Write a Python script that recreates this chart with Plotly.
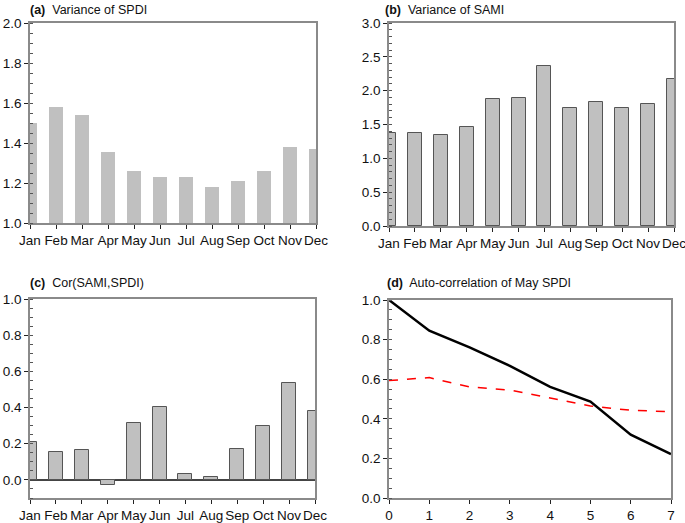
import plotly.graph_objects as go

months = ["Jan", "Feb", "Mar", "Apr", "May", "Jun", "Jul", "Aug", "Sep", "Oct", "Nov", "Dec"]
var_spdi = [1.50, 1.58, 1.54, 1.355, 1.26, 1.23, 1.23, 1.18, 1.21, 1.26, 1.38, 1.37]
var_sami = [1.38, 1.37, 1.34, 1.47, 1.88, 1.89, 2.37, 1.74, 1.83, 1.74, 1.81, 2.17]
cor_sami_spdi = [0.21, 0.154, 0.167, -0.026, 0.316, 0.404, 0.035, 0.017, 0.173, 0.298, 0.537, 0.382]
lags = [0, 1, 2, 3, 4, 5, 6, 7]
autocorr_may = [1.0, 0.845, 0.761, 0.667, 0.561, 0.487, 0.32, 0.222]
sig_level = [0.593, 0.608, 0.561, 0.545, 0.505, 0.465, 0.443, 0.436]

W, H = 685, 523
FONT = "Liberation Sans, Arial, Helvetica, sans-serif"

def xd(l, r):
    return [l / W, r / W]

def yd(t, b):
    return [(H - b) / H, (H - t) / H]

fig = go.Figure()
idx = list(range(12))

fig.add_trace(go.Bar(x=idx, y=[v - 1.0 for v in var_spdi], base=1.0, width=0.54,
                     marker=dict(color="#c0c0c0", line=dict(width=0)),
                     xaxis="x", yaxis="y", showlegend=False))
fig.add_trace(go.Bar(x=idx, y=var_sami, width=0.54,
                     marker=dict(color="#c0c0c0", line=dict(width=1, color="#555555")),
                     xaxis="x2", yaxis="y2", showlegend=False))
fig.add_trace(go.Bar(x=idx, y=cor_sami_spdi, width=0.54,
                     marker=dict(color="#c0c0c0", line=dict(width=1, color="#555555")),
                     xaxis="x3", yaxis="y3", showlegend=False))
fig.add_trace(go.Scatter(x=lags, y=sig_level, mode="lines",
                         line=dict(color="#ff0000", width=1.5, dash="dash"),
                         xaxis="x4", yaxis="y4", showlegend=False))
fig.add_trace(go.Scatter(x=lags, y=autocorr_may, mode="lines",
                         line=dict(color="#000000", width=2.5),
                         xaxis="x4", yaxis="y4", showlegend=False))

axcommon = dict(showline=True, linecolor="#8a8a8a", linewidth=1.5, mirror=True,
                showgrid=False, zeroline=False, ticks="outside", ticklen=4,
                tickcolor="#222222", tickwidth=1.2, tickangle=0, automargin=False,
                ticklabeloverflow="allow",
                tickfont=dict(family=FONT, size=13.5, color="#111111"))

def monthaxis(domain, anchor):
    return dict(axcommon, domain=domain, anchor=anchor, range=[0, 11],
                tickmode="array", tickvals=idx, ticktext=months)

def yaxis(domain, anchor, rng, dtick, minor_dtick, **kw):
    d = dict(axcommon, domain=domain, anchor=anchor, range=rng, dtick=dtick,
             tick0=0, tickformat=".1f",
             minor=dict(ticks="inside", ticklen=3, tickcolor="#555555",
                        dtick=minor_dtick, tick0=0))
    d.update(kw)
    return d

fig.update_layout(
    width=W, height=H, margin=dict(l=0, r=0, t=0, b=0),
    paper_bgcolor="white", plot_bgcolor="white", bargap=0,
    xaxis=monthaxis(xd(30, 316), "y"),
    yaxis=yaxis(yd(23, 223), "x", [1.0, 2.0], 0.2, 0.05),
    xaxis2=monthaxis(xd(389, 674), "y2"),
    yaxis2=yaxis(yd(23, 226), "x2", [0, 3.0], 0.5, 0.1),
    xaxis3=monthaxis(xd(30, 315), "y3"),
    yaxis3=yaxis(yd(299, 498), "x3", [-0.1, 1.0], 0.2, 0.05,
                 zeroline=True, zerolinecolor="#444444", zerolinewidth=1.8),
    xaxis4=dict(axcommon, domain=xd(389, 671), anchor="y4", range=[0, 7], dtick=1),
    yaxis4=yaxis(yd(300, 498), "x4", [0, 1.0], 0.2, 0.05),
)

titles = [
    (28, 10, "<b>(a)</b>  Variance of SPDI"),
    (383, 10, "<b>(b)</b>  Variance of SAMI"),
    (28, 283, "<b>(c)</b>  Cor(SAMI,SPDI)"),
    (385, 283, "<b>(d)</b>  Auto-correlation of May SPDI"),
]
for x, y, t in titles:
    fig.add_annotation(x=x / W, y=(H - y) / H, xref="paper", yref="paper",
                       xanchor="left", yanchor="middle", text=t, showarrow=False,
                       font=dict(family=FONT, size=12.5, color="#111111"))

fig.write_html("out.html", config={"displayModeBar": False},
               post_script="document.body.style.margin='0px';document.body.style.overflow='hidden';")
